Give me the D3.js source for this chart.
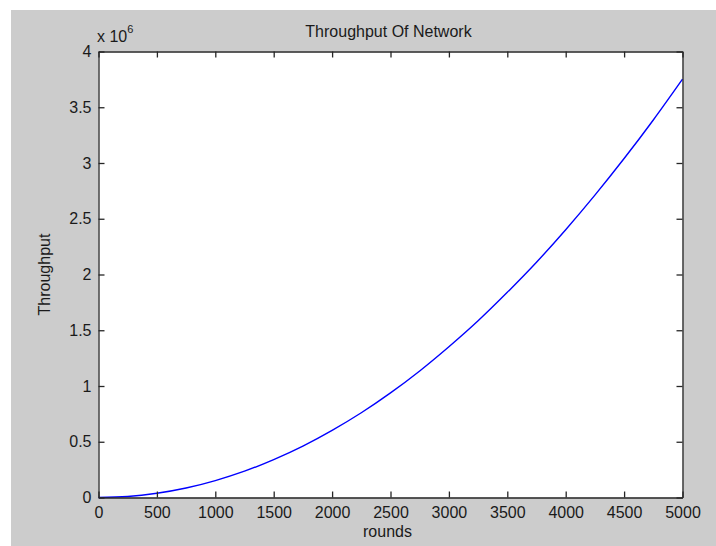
<!DOCTYPE html>
<html>
<head>
<meta charset="utf-8">
<script src="https://cdn.jsdelivr.net/npm/d3@7"></script>
<style>
  body { margin: 0; background: #fff; }
  svg { display: block; font-family: "Liberation Sans", Arial, sans-serif; }
</style>
</head>
<body>
<script>
// rounds (x) and throughput values (units of 1e6)
let rounds = [0, 250, 500, 750, 1000, 1250, 1500, 1750, 2000, 2250, 2500,
  2750, 3000, 3250, 3500, 3750, 4000, 4250, 4500, 4750, 5000]
let throughput = [0, 0.009, 0.038, 0.085, 0.152, 0.236, 0.340, 0.461, 0.602, 0.760, 0.938,
  1.135, 1.352, 1.585, 1.840, 2.110, 2.402, 2.712, 3.040, 3.386, 3.752]
let xTicks = [0, 500, 1000, 1500, 2000, 2500, 3000, 3500, 4000, 4500, 5000]
let yTicks = [0, 0.5, 1, 1.5, 2, 2.5, 3, 3.5, 4]

let m = {
  width: 716,
  height: 546,
  left: 98.5,
  right: 682.5,
  top: 51.5,
  bottom: 497.5,
  tick: 6,
}

let svg = d3.select('body')
  .append('svg')
  .attr('width', m.width)
  .attr('height', m.height)

// grey figure background
svg.append('rect')
  .attr('x', 11).attr('y', 10)
  .attr('width', m.width - 11).attr('height', m.height - 10)
  .attr('fill', '#cccccc')

// white axes area
svg.append('rect')
  .attr('x', m.left).attr('y', m.top)
  .attr('width', m.right - m.left).attr('height', m.bottom - m.top)
  .attr('fill', '#fff')

let xScale = d3.scaleLinear().domain([0, 5000]).range([m.left, m.right])
let yScale = d3.scaleLinear().domain([0, 4]).range([m.bottom, m.top])

// the curve
let line = d3.line()
  .x(function(d, i) { return xScale(rounds[i]) })
  .y(function(d) { return yScale(d) })
  .curve(d3.curveMonotoneX)

svg.append('path')
  .datum(throughput)
  .attr('d', line)
  .attr('fill', 'none')
  .attr('stroke', '#0000ff')
  .attr('stroke-width', 1.4)

// axes: ticks pointing inward on all four sides, MATLAB style
let axisColor = '#262626'
let plain = function(d) { return String(d) }

let bottomAxis = d3.axisBottom(xScale).tickValues(xTicks).tickSizeInner(-m.tick).tickSizeOuter(0)
  .tickPadding(9).tickFormat(plain)
let topAxis = d3.axisTop(xScale).tickValues(xTicks).tickSizeInner(-m.tick).tickSizeOuter(0).tickFormat('')
let leftAxis = d3.axisLeft(yScale).tickValues(yTicks).tickSizeInner(-m.tick).tickSizeOuter(0)
  .tickPadding(7).tickFormat(plain)
let rightAxis = d3.axisRight(yScale).tickValues(yTicks).tickSizeInner(-m.tick).tickSizeOuter(0).tickFormat('')

svg.append('g').attr('transform', 'translate(0,' + m.bottom + ')').call(bottomAxis)
svg.append('g').attr('transform', 'translate(0,' + m.top + ')').call(topAxis)
svg.append('g').attr('transform', 'translate(' + m.left + ',0)').call(leftAxis)
svg.append('g').attr('transform', 'translate(' + m.right + ',0)').call(rightAxis)

svg.selectAll('.domain').attr('stroke', axisColor).attr('stroke-width', 1.3)
svg.selectAll('.tick line').attr('stroke', axisColor).attr('stroke-width', 1.3)
svg.selectAll('.tick text')
  .attr('fill', '#1a1a1a')
  .style('font-size', '16px')
  .style('font-family', '"Liberation Sans", Arial, sans-serif')

// exponent label
let expo = svg.append('text')
  .attr('x', 97)
  .attr('y', 42)
  .attr('fill', '#1a1a1a')
  .style('font-size', '16px')
expo.append('tspan').text('x 10')
expo.append('tspan').attr('dy', -9).style('font-size', '11px').text('6')

// title and axis labels
svg.append('text')
  .attr('x', (m.left + m.right) / 2 - 2)
  .attr('y', 37)
  .attr('text-anchor', 'middle')
  .attr('fill', '#1a1a1a')
  .style('font-size', '16px')
  .text('Throughput Of Network')

svg.append('text')
  .attr('x', (m.left + m.right) / 2 - 3)
  .attr('y', 537)
  .attr('text-anchor', 'middle')
  .attr('fill', '#1a1a1a')
  .style('font-size', '16px')
  .text('rounds')

svg.append('text')
  .attr('transform', 'translate(50,' + ((m.top + m.bottom) / 2) + ') rotate(-90)')
  .attr('text-anchor', 'middle')
  .attr('fill', '#1a1a1a')
  .style('font-size', '16px')
  .text('Throughput')
</script>
</body>
</html>
